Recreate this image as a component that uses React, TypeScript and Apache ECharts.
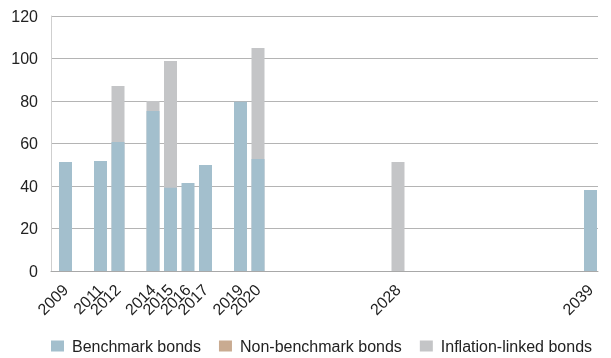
import React, { useEffect, useRef } from "react";
import * as echarts from "echarts";

// Maturity years shown on the axis
const years = [2009, 2011, 2012, 2014, 2015, 2016, 2017, 2019, 2020, 2028, 2039];
// Outstanding amounts per maturity year
const benchmark = [51.3, 51.8, 60.7, 75.3, 39.2, 41.4, 49.9, 79.7, 52.7, 0, 38.1];
const nonBenchmark = [0, 0, 0, 0, 0, 0, 0, 0, 0, 0, 0];
const inflationLinked = [0, 0, 26.4, 4.7, 59.6, 0, 0, 0, 52.2, 51.3, 0];
const yTicks = [0, 20, 40, 60, 80, 100, 120];

const seriesNames = ["Benchmark bonds", "Non-benchmark bonds", "Inflation-linked bonds"];
const colors = ["#a3bfcd", "#c9ab91", "#c4c5c7"];

const FONT = "'Liberation Sans', Arial, sans-serif";

export default function App() {
  const ref = useRef<HTMLDivElement>(null);

  useEffect(() => {
    if (!ref.current) return;
    const chart = echarts.init(ref.current, undefined, { renderer: "svg" });

    // Bars on a value axis do not stack, so each layer is drawn to its
    // cumulative height, lower layers painted over the upper ones.
    const cum1 = benchmark;
    const cum2 = benchmark.map((v, i) => v + nonBenchmark[i]);
    const cum3 = cum2.map((v, i) => v + inflationLinked[i]);
    const layers = [cum1, cum2, cum3];
    const own = [benchmark, nonBenchmark, inflationLinked];

    chart.setOption({
      animation: false,
      textStyle: { fontFamily: FONT },
      grid: { left: 51, right: 13, top: 16, bottom: 87 },
      legend: {
        left: 46,
        top: 333,
        itemWidth: 13,
        itemHeight: 11,
        itemGap: 18,
        icon: "rect",
        textStyle: { fontSize: 16, color: "#222", fontFamily: FONT, padding: [0, 0, 0, 3] },
        data: seriesNames,
      },
      xAxis: {
        type: "value",
        min: 2008.171,
        max: 2039.429,
        splitLine: { show: false },
        axisTick: { show: false },
        axisLine: { show: true, lineStyle: { color: "#a8a8a8", width: 1 } },
        axisLabel: {
          customValues: years,
          rotate: 45,
          margin: 16,
          fontSize: 16,
          color: "#222",
          fontFamily: FONT,
          formatter: (v: number) => String(Math.round(v)),
        },
      },
      yAxis: {
        type: "value",
        min: 0,
        max: 120,
        interval: 20,
        axisLine: { show: true, lineStyle: { color: "#cfcfcf" } },
        axisTick: { show: false },
        splitLine: { lineStyle: { color: "#b4b4b4", width: 1 } },
        axisLabel: {
          fontSize: 16,
          color: "#222",
          margin: 13,
          fontFamily: FONT,
          customValues: yTicks,
        },
      },
      series: layers.map((vals, i) => ({
        name: seriesNames[i],
        type: "bar",
        barWidth: 13,
        barGap: "-100%",
        z: 10 - i,
        itemStyle: { color: colors[i] },
        data: years.map((y, k) => [y, own[i][k] > 0 ? vals[k] : 0]),
      })),
    });
    return () => chart.dispose();
  }, []);

  return (
    <div
      ref={ref}
      style={{ position: "fixed", left: 0, top: 0, width: 611, height: 358 }}
    />
  );
}
